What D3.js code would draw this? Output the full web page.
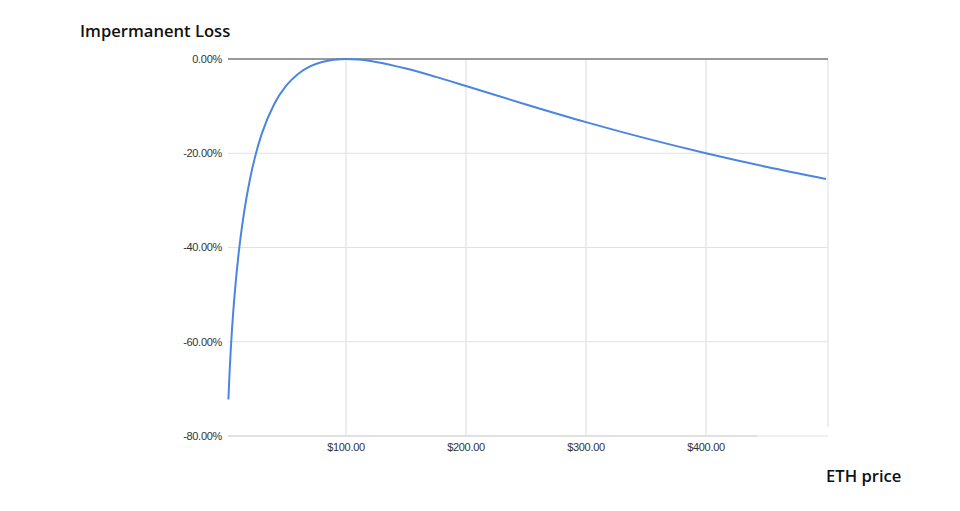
<!DOCTYPE html>
<html><head><meta charset="utf-8">
<script src="https://cdn.jsdelivr.net/npm/d3@7"></script>
<style>body{margin:0;background:#fff}</style>
</head><body>
<svg id="c" width="960" height="511"></svg>
<script>
// ETH price (USD) and impermanent loss (%)
const prices = [2,3,4,5,6,8,10,12,15,20,25,30,40,50,60,70,80,90,100,110,125,150,175,200,250,300,350,400,450,500];
const lossPct = [-72.27,-66.37,-61.54,-57.41,-53.78,-47.62,-42.50,-38.14,-32.64,-25.46,-20.00,-15.73,-9.65,-5.72,-3.18,-1.57,-0.62,-0.14,0,-0.11,-0.62,-2.02,-3.79,-5.72,-9.65,-13.40,-16.85,-20.00,-22.86,-25.46];
const xTicks = [100,200,300,400];
const yTicks = [0,-20,-40,-60,-80];
const yTitle = "Impermanent Loss";
const xTitle = "ETH price";

const svg = d3.select("#c");
const x = d3.scaleLinear().domain([0,500]).range([226,826]);
const y = d3.scaleLinear().domain([-80,0]).range([436,59]);
const fmt = d3.formatLocale({decimal:".",thousands:",",grouping:[3],currency:["$",""],minus:"-"}).format(".2f");

// horizontal gridlines
svg.append("g").selectAll("line").data(yTicks.filter(d=>d!==0)).join("line")
  .attr("x1",228).attr("x2",828).attr("y1",d=>y(d)).attr("y2",d=>y(d))
  .attr("stroke","#e2e2e2").attr("stroke-width",1.2);
// vertical gridlines
svg.append("g").selectAll("line").data(xTicks).join("line")
  .attr("x1",d=>x(d)).attr("x2",d=>x(d)).attr("y1",59).attr("y2",436)
  .attr("stroke","#e2e2e2").attr("stroke-width",1.2);
svg.append("line").attr("x1",x(500)+2).attr("x2",x(500)+2).attr("y1",59).attr("y2",427)
  .attr("stroke","#e2e2e2").attr("stroke-width",1.2);
// bottom baseline
svg.append("line").attr("x1",228).attr("x2",757).attr("y1",436).attr("y2",436)
  .attr("stroke","#dcdcdc").attr("stroke-width",1.5);

// y tick labels
svg.append("g").selectAll("text").data(yTicks).join("text")
  .attr("x",222).attr("y",d=>y(d)).attr("dy","0.35em").attr("text-anchor","end")
  .attr("font-family","Liberation Sans, Arial, sans-serif").attr("font-size",11).attr("fill","#333")
  .attr("letter-spacing",-0.3)
  .text(d=>fmt(d)+"%");
// x tick labels
svg.append("g").selectAll("text").data(xTicks).join("text")
  .attr("x",d=>x(d)).attr("y",451).attr("text-anchor","middle")
  .attr("font-family","Liberation Sans, Arial, sans-serif").attr("font-size",11).attr("fill","#333")
  .attr("letter-spacing",-0.3)
  .text(d=>"$"+fmt(d));

// zero line
svg.append("line").attr("x1",228).attr("x2",828).attr("y1",y(0)).attr("y2",y(0))
  .attr("stroke","#777").attr("stroke-width",1.6);

// curve
const pts = prices.map((p,i)=>[p,lossPct[i]]);
svg.append("path").datum(pts)
  .attr("d",d3.line().x(d=>x(d[0])).y(d=>y(d[1])).curve(d3.curveMonotoneX))
  .attr("fill","none").attr("stroke","#4a86e0").attr("stroke-width",2);

// titles
svg.append("text").attr("x",80).attr("y",37).attr("font-family","Open Sans, sans-serif")
  .attr("font-size",16.6).attr("font-weight",600).attr("fill","#111").text(yTitle);
svg.append("text").attr("x",826).attr("y",482).attr("font-family","Open Sans, sans-serif")
  .attr("font-size",16.6).attr("font-weight",600).attr("fill","#111").text(xTitle);
</script>
</body></html>
